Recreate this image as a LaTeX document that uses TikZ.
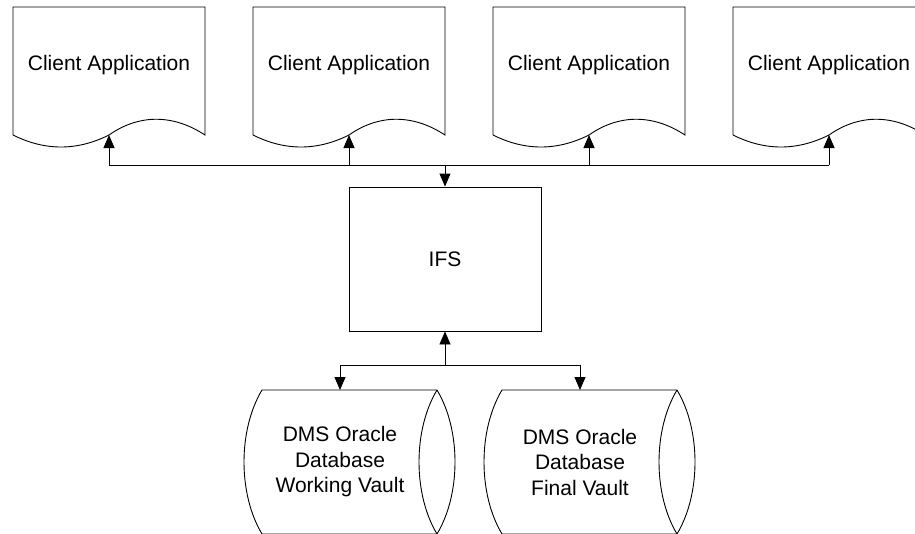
\documentclass[tikz,border=0pt]{standalone}
\usepackage{fontspec}
\setmainfont{Liberation Sans}
\usetikzlibrary{arrows.meta}

\tikzstyle{outline} = [draw=black, line width=0.9pt]
\tikzstyle{apptext} = [font=\fontsize{21}{25.5}\selectfont, align=center, inner sep=0pt]
\tikzstyle{ifsbox} = [outline, rectangle, minimum width=192pt, minimum height=144pt, apptext]
\tikzstyle{link} = [draw=black, line width=0.9pt, -{Triangle[length=13pt, width=11pt]}]

\begin{document}
\begin{tikzpicture}[x=1pt, y=1pt]
\useasboundingbox (0,0) rectangle (915,-533);
%------------ Client Applications ---------------------
\foreach \i/\x in {1/109, 2/349, 3/589, 4/829} {
  \draw[outline] (\x-96,-135) -- (\x-96,-7) -- (\x+96,-7) -- (\x+96,-135)
    .. controls (\x+64,-114) and (\x+30,-114) .. (\x,-135)
    .. controls (\x-32,-151) and (\x-64,-151) .. (\x-96,-135) -- cycle;
  \node[apptext] (app\i) at (\x,-65) {Client Application};
  \coordinate (app\i-s) at (\x,-135);
}
%------------ IFS ---------------------
\node[ifsbox] (ifs) at (445,-259) {IFS};
%------------ Oracle Databases ---------------------
\foreach \i/\x/\vault in {1/340/Working Vault, 2/580/Final Vault} {
  \draw[outline] (\x+97,-390) -- (\x-78,-390)
    .. controls (\x-102,-430) and (\x-102,-494) .. (\x-78,-534) -- (\x+97,-534);
  \draw[outline] (\x+97,-390) .. controls (\x+73,-430) and (\x+73,-494) .. (\x+97,-534)
    .. controls (\x+121,-494) and (\x+121,-430) .. (\x+97,-390);
  \node[apptext] (db\i) at (\x,-462) {DMS Oracle\\Database\\\vault};
  \coordinate (db\i-n) at (\x,-390);
}
%------------ Connections ---------------------
\coordinate (bus) at (445,-165);
\coordinate (split) at (445,-365);
\draw[outline] (bus -| app1-s) -- (bus -| app4-s);
\foreach \i in {1,...,4} \draw[link] (bus -| app\i-s) -- (app\i-s);
\draw[link] (bus) -- (ifs.north);
\draw[link] (split) -- (ifs.south);
\draw[link] (split) -| (db1-n);
\draw[link] (split) -| (db2-n);
\end{tikzpicture}
\end{document}
